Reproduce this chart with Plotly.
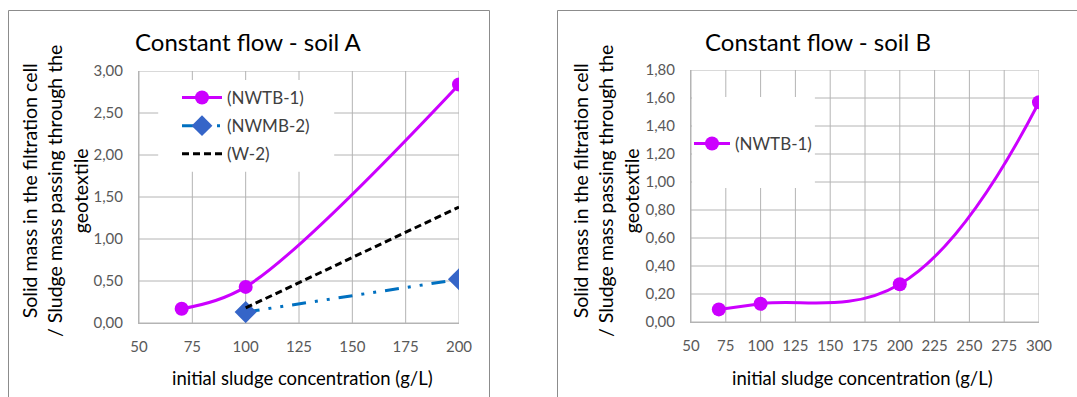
import plotly.graph_objects as go

W, H = 1077, 397

# ---------------- data ----------------
# Soil A
a_nwtb1_x = [70, 100, 200]
a_nwtb1_y = [0.17, 0.43, 2.84]
a_nwmb2_x = [100, 200]
a_nwmb2_y = [0.13, 0.52]
a_w2_x = [100, 200]
a_w2_y = [0.18, 1.38]
# Soil B
b_nwtb1_x = [70, 100, 200, 300]
b_nwtb1_y = [0.09, 0.13, 0.27, 1.57]

a_xticks = [50, 75, 100, 125, 150, 175, 200]
a_yticks = [0, 0.5, 1.0, 1.5, 2.0, 2.5, 3.0]
b_xticks = [50, 75, 100, 125, 150, 175, 200, 225, 250, 275, 300]
b_yticks = [0, 0.2, 0.4, 0.6, 0.8, 1.0, 1.2, 1.4, 1.6, 1.8]

titles = ["Constant flow - soil A", "Constant flow - soil B"]
x_title = "initial sludge concentration (g/L)"
y_title = "Solid mass in the filtration cell<br>/ Sludge mass passing through the<br>geotextile"

# ---------------- style ----------------
FONT = "Lato"
MAG = "#CC00FF"
BLUE = "#0070C0"
BLUE_M = "#3565C8"
GRID = "#B4B4B4"
TXT = "#404040"
TICK = "#595959"


def px_x(p):
    return p / W


def px_y(p):
    return 1 - p / H


fig = go.Figure()

fig.add_trace(go.Scatter(x=a_nwtb1_x, y=a_nwtb1_y, name="(NWTB-1)", mode="lines+markers",
                         line=dict(color=MAG, width=3, shape="spline"),
                         marker=dict(color=MAG, size=14, symbol="circle"),
                         xaxis="x", yaxis="y", legend="legend", legendgroup="a1"))
fig.add_trace(go.Scatter(x=a_nwmb2_x, y=a_nwmb2_y, name="(NWMB-2)", mode="lines+markers",
                         line=dict(color=BLUE, width=3, dash="14px,9px,3px,9px,3px,9px"),
                         marker=dict(color=BLUE_M, size=17, symbol="diamond"),
                         xaxis="x", yaxis="y", legend="legend", legendgroup="a2"))
fig.add_trace(go.Scatter(x=a_w2_x, y=a_w2_y, name="(W-2)", mode="lines",
                         line=dict(color="black", width=3, dash="7px,4px"),
                         xaxis="x", yaxis="y", legend="legend", legendgroup="a3"))
fig.add_trace(go.Scatter(x=b_nwtb1_x, y=b_nwtb1_y, name="(NWTB-1)", mode="lines+markers",
                         line=dict(color=MAG, width=3, shape="spline", smoothing=1.2),
                         marker=dict(color=MAG, size=14, symbol="circle"),
                         xaxis="x2", yaxis="y2", legend="legend2"))


def fmt(v):
    return f"{v:.2f}".replace(".", ",")


axis_common = dict(showgrid=False, showline=True, linecolor=GRID, automargin=False,
                   linewidth=1, zeroline=False, ticks="", fixedrange=True,
                   tickfont=dict(family=FONT, size=15, color=TICK))

fig.update_layout(
    width=W, height=H, margin=dict(l=0, r=0, t=0, b=0, pad=0, autoexpand=False),
    paper_bgcolor="white", plot_bgcolor="white",
    xaxis=dict(domain=[px_x(139), px_x(459)], range=[50, 200], tickvals=a_xticks,
               ticktext=[str(v) for v in a_xticks], anchor="y", ticklabelstandoff=10, **axis_common),
    yaxis=dict(domain=[px_y(323), px_y(71)], range=[0, 3], tickvals=a_yticks,
               ticktext=[fmt(v) for v in a_yticks], anchor="x", ticklabelstandoff=12, **axis_common),
    xaxis2=dict(domain=[px_x(691), px_x(1039)], range=[50, 300], tickvals=b_xticks,
                ticktext=[str(v) for v in b_xticks], anchor="y2", ticklabelstandoff=10, **axis_common),
    yaxis2=dict(domain=[px_y(322), px_y(70)], range=[0, 1.8], tickvals=b_yticks,
                ticktext=[fmt(v) for v in b_yticks], anchor="x2", ticklabelstandoff=12, **axis_common),
    legend=dict(x=px_x(177), y=px_y(80), xanchor="left", yanchor="top",
                bgcolor="rgba(0,0,0,0)", font=dict(family=FONT, size=17, color=TXT),
                tracegroupgap=3, traceorder="grouped", itemwidth=40),
    legend2=dict(x=px_x(689), y=px_y(126), xanchor="left", yanchor="top",
                 bgcolor="rgba(0,0,0,0)", font=dict(family=FONT, size=17, color=TXT),
                 itemwidth=36),
    showlegend=True,
)

# gridlines drawn as shapes (so the legend backgrounds can hide them)
for xr, yr, xt, yt in [("x", "y", a_xticks, a_yticks), ("x2", "y2", b_xticks, b_yticks)]:
    for v in xt:
        fig.add_shape(type="line", xref=xr, yref=yr + " domain", x0=v, x1=v, y0=0, y1=1,
                      line=dict(color=GRID, width=1), layer="below")
    for v in yt:
        fig.add_shape(type="line", xref=xr + " domain", yref=yr, x0=0, x1=1, y0=v, y1=v,
                      line=dict(color=GRID, width=1), layer="below")

# white legend backgrounds covering the gridlines
fig.add_shape(type="rect", xref="x domain", yref="y domain", x0=0.06, x1=0.61, y0=0.6, y1=0.964,
              fillcolor="white", line=dict(width=0), layer="below")
fig.add_shape(type="rect", xref="x2 domain", yref="y2 domain", x0=0.003, x1=0.356, y0=0.532, y1=0.893,
              fillcolor="white", line=dict(width=0), layer="below")

# chart borders
fig.add_shape(type="rect", xref="paper", yref="paper", x0=px_x(8.5), x1=px_x(489.5), y0=px_y(405), y1=px_y(10.5),
              line=dict(color="#8C8C8C", width=1), fillcolor="rgba(0,0,0,0)", layer="above")
fig.add_shape(type="rect", xref="paper", yref="paper", x0=px_x(557.5), x1=px_x(1085), y0=px_y(405), y1=px_y(10.5),
              line=dict(color="#8C8C8C", width=1), fillcolor="rgba(0,0,0,0)", layer="above")

# titles
for cx, t in [(248, titles[0]), (818, titles[1])]:
    fig.add_annotation(text=t, x=px_x(cx), y=px_y(41), xref="paper", yref="paper",
                       showarrow=False, xanchor="center", yanchor="middle",
                       font=dict(family=FONT, size=24, color="black"))
for cx in [302, 862]:
    fig.add_annotation(text=x_title, x=px_x(cx), y=px_y(378), xref="paper", yref="paper",
                       showarrow=False, xanchor="center", yanchor="middle",
                       font=dict(family=FONT, size=18.5, color="black"))
for cx in [55, 606]:
    fig.add_annotation(text=y_title, x=px_x(cx), y=px_y(191), xref="paper", yref="paper",
                       showarrow=False, xanchor="center", yanchor="middle", textangle=-90,
                       font=dict(family=FONT, size=19.5, color="black"))

fig.write_html("out.html", config={"displayModeBar": False},
               post_script="document.body.style.margin='0';document.body.style.overflow='hidden';")
